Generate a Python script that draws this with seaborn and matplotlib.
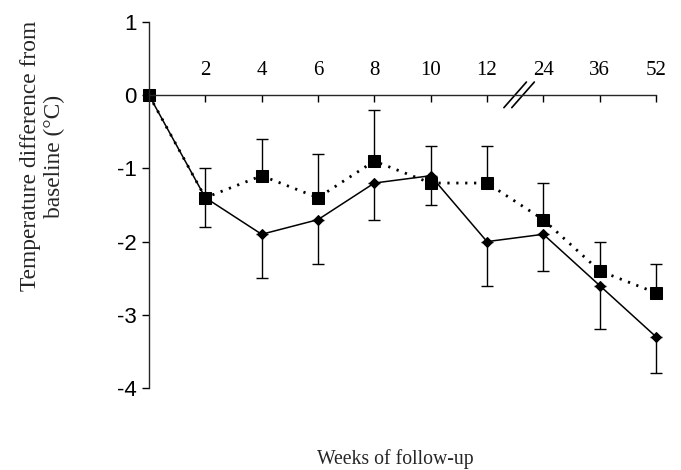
import matplotlib
matplotlib.use("Agg")
import matplotlib.pyplot as plt
import seaborn as sns
import pandas as pd

# weeks of follow-up (categorical positions on the x axis)
weeks = [0, 2, 4, 6, 8, 10, 12, 24, 36, 52]
week_labels = ["2", "4", "6", "8", "10", "12", "24", "36", "52"]

# solid line, diamond markers (error bars drawn downwards)
diamond = [0, -1.4, -1.9, -1.7, -1.2, -1.1, -2.0, -1.9, -2.6, -3.3]
diamond_err = [0, 0.4, 0.6, 0.6, 0.5, 0.4, 0.6, 0.5, 0.6, 0.5]

# dotted line, square markers (error bars drawn upwards)
square = [0, -1.4, -1.1, -1.4, -0.9, -1.2, -1.2, -1.7, -2.4, -2.7]
square_err = [0, 0.4, 0.5, 0.6, 0.7, 0.5, 0.5, 0.5, 0.4, 0.4]

df = pd.DataFrame({"pos": range(len(weeks)), "week": weeks,
                   "diamond": diamond, "square": square})

sns.set_theme(style="ticks")
plt.rcParams["font.family"] = ["Liberation Serif", "DejaVu Serif"]

fig = plt.figure(figsize=(6.81, 4.70), dpi=100)
ax = fig.add_axes([149/681, 1-388/470, 507/681, 366/470])

# error bars first, lines and markers on top
for (vals, err, up) in [(square, square_err, True), (diamond, diamond_err, False)]:
    zeros = [0] * len(vals)
    yerr = [zeros, err] if up else [err, zeros]
    eb = ax.errorbar(df["pos"], vals, yerr=yerr, fmt="none", ecolor="black",
                     elinewidth=1, capsize=4, capthick=1)
    for art in eb.lines[1] + eb.lines[2]:
        art.set_clip_on(False)

sns.lineplot(data=df, x="pos", y="square", ax=ax, color="black",
             marker="s", markersize=8, linewidth=2,
             linestyle=(0, (0.8, 2.4)), markeredgecolor="black")
sns.lineplot(data=df, x="pos", y="diamond", ax=ax, color="black",
             marker="D", markersize=5, linewidth=1.1,
             markeredgecolor="black")
for ln in ax.lines:
    ln.set_clip_on(False)

ax.set_xlim(0, len(weeks) - 1)
ax.set_ylim(-4, 1)

# x axis sits at y = 0, labels above, ticks pointing down
ax.spines["right"].set_visible(False)
ax.spines["bottom"].set_visible(False)
ax.spines["top"].set_position(("data", 0))
ax.spines["top"].set_linewidth(1)
ax.spines["left"].set_linewidth(1)
ax.xaxis.tick_top()
ax.set_xticks(range(1, len(weeks)))
ax.set_xticklabels(week_labels)
ax.tick_params(axis="x", direction="in", length=5, width=1, pad=11,
               labelsize=15, colors="black")
ax.set_yticks([1, 0, -1, -2, -3, -4])
ax.set_yticklabels(["1", "0", "-1", "-2", "-3", "-4"],
                   family=["Liberation Sans", "DejaVu Sans"])
ax.tick_params(axis="y", direction="out", length=5, width=1, pad=4,
               labelsize=16, colors="black")

# axis break between 12 and 24
bx = 6.5
for off in (0.0, 0.14):
    ax.plot([bx + off - 0.2, bx + off + 0.2], [-0.17, 0.18],
            color="black", linewidth=1.2, clip_on=False)

ax.set_xlabel("Weeks of follow-up", fontsize=14.2)
ax.xaxis.set_label_position("bottom")
ax.xaxis.set_label_coords(0.485, -0.168)
ax.set_ylabel("Temperature difference from\nbaseline (°C)", fontsize=16.8)
ax.yaxis.set_label_coords(-0.165, 0.634)

fig.savefig("out.png", dpi=100)
